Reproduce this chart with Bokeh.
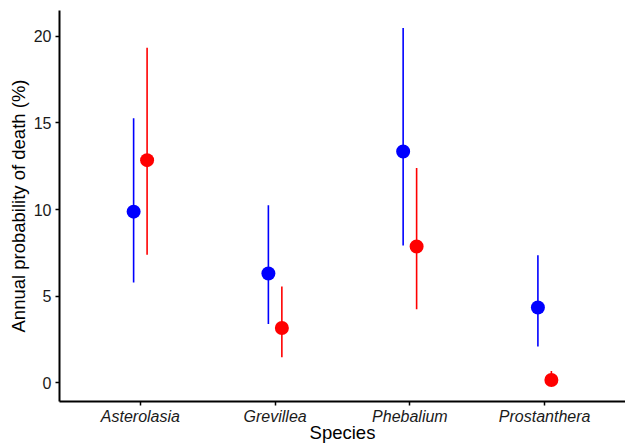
from bokeh.plotting import figure
from bokeh.models import ColumnDataSource, FactorRange, Range1d, FixedTicker
from bokeh.transform import dodge
from bokeh.embed import file_html
from bokeh.resources import INLINE

species = ["Asterolasia", "Grevillea", "Phebalium", "Prostanthera"]
blue_mid = [9.88, 6.31, 13.35, 4.35]
blue_lo = [5.79, 3.40, 7.92, 2.10]
blue_hi = [15.27, 10.25, 20.47, 7.36]
red_mid = [12.85, 3.17, 7.87, 0.17]
red_lo = [7.39, 1.48, 4.25, 0.02]
red_hi = [19.33, 5.56, 12.39, 0.69]
y_ticks = [0, 5, 10, 15, 20]

FONT = "Liberation Sans"
Y0, Y1 = -1.07, 21.48

p = figure(
    width=625, height=445,
    x_range=FactorRange(factors=species, range_padding=0.1, range_padding_units="absolute"),
    y_range=Range1d(Y0, Y1),
    output_backend="svg", toolbar_location=None,
    min_border_left=59, min_border_right=0, min_border_top=10, min_border_bottom=44,
)
p.outline_line_color = None
p.xgrid.visible = False
p.ygrid.visible = False
p.background_fill_color = "white"
p.border_fill_color = "white"

src_b = ColumnDataSource(dict(x=species, mid=blue_mid, lo=blue_lo, hi=blue_hi))
src_r = ColumnDataSource(dict(x=species, mid=red_mid, lo=red_lo, hi=red_hi))

off = 0.05
for src, col, o in ((src_b, "#0000FF", -off), (src_r, "#FF0000", off)):
    xd = dodge("x", o, range=p.x_range)
    p.segment(x0=xd, y0="lo", x1=xd, y1="hi", source=src, line_color=col, line_width=1.6)
    p.scatter(x=xd, y="mid", source=src, size=14, fill_color=col, line_color=col, line_width=0)

for ax in (p.xaxis[0], p.yaxis[0]):
    ax.axis_line_color = "black"
    ax.axis_line_width = 2
    ax.major_tick_line_color = "black"
    ax.major_tick_line_width = 1.5
    ax.major_tick_in = 0
    ax.major_tick_out = 4
    ax.minor_tick_line_color = None
    ax.major_label_text_font = FONT
    ax.major_label_text_font_size = "16px"
    ax.major_label_text_color = "#1a1a1a"
    ax.axis_label_text_font = FONT
    ax.axis_label_text_font_size = "18.5px"
    ax.axis_label_text_font_style = "normal"
    ax.axis_label_text_color = "black"

p.yaxis.ticker = FixedTicker(ticks=y_ticks)
p.yaxis.axis_label = "Annual probability of death (%)"
p.yaxis.major_label_standoff = 4
p.yaxis.axis_label_standoff = 2
p.xaxis.axis_label = "Species"
p.xaxis.major_label_text_font_style = "italic"
p.xaxis.major_label_standoff = 2
p.xaxis.axis_label_standoff = -6

open("out.html", "w").write(file_html(p, INLINE))
